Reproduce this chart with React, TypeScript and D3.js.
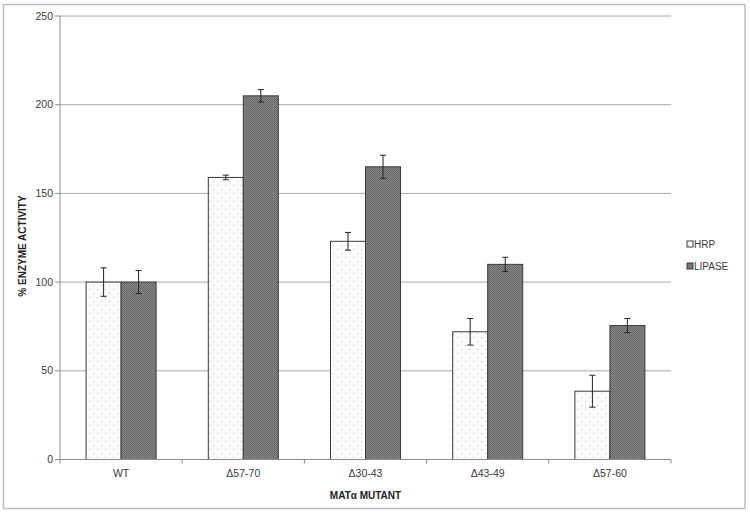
import React from "react";
import * as d3 from "d3";

const categories = ["WT", "Δ57-70", "Δ30-43", "Δ43-49", "Δ57-60"];
const seriesNames = ["HRP", "LIPASE"];
const hrpValues = [100, 159, 123, 72, 38.5];
const hrpErrors = [8, 1.3, 5, 7.5, 9];
const lipaseValues = [100, 205, 165, 110, 75.5];
const lipaseErrors = [6.5, 3.5, 6.5, 4, 4];
const yTicks = [0, 50, 100, 150, 200, 250];

const W = 750;
const H = 514;
const left = 60;
const right = 671;
const top = 16;
const bottom = 459.5;

export default function App() {
  const x = d3.scaleBand<string>().domain(categories).range([left, right]).paddingInner(0).paddingOuter(0);
  const y = d3.scaleLinear().domain([0, 250]).range([bottom, top]);
  const bw = x.bandwidth();
  const barW = bw * 0.2865;
  const sub = d3.scaleBand<string>().domain(seriesNames).range([bw / 2 - barW, bw / 2 + barW]);

  const series = [
    { name: "HRP", values: hrpValues, errors: hrpErrors, fill: "url(#dots)" },
    { name: "LIPASE", values: lipaseValues, errors: lipaseErrors, fill: "url(#checker)" },
  ];

  const font = "'Liberation Sans', Arial, sans-serif";

  return (
    <div style={{ position: "absolute", left: 0, top: 0 }}>
      <svg width={W} height={H} style={{ display: "block" }}>
        <defs>
          <pattern id="dots" width="8" height="8" patternUnits="userSpaceOnUse">
            <rect width="8" height="8" fill="#ffffff" />
            <rect x="1" y="1" width="1" height="1" fill="#b8b8b8" />
            <rect x="5" y="5" width="1" height="1" fill="#b8b8b8" />
          </pattern>
          <pattern id="checker" width="2" height="2" patternUnits="userSpaceOnUse">
            <rect width="2" height="2" fill="#868686" />
            <rect x="0" y="0" width="1" height="1" fill="#696969" />
            <rect x="1" y="1" width="1" height="1" fill="#696969" />
          </pattern>
        </defs>
        <rect x={3.5} y={4.5} width={741.5} height={504} fill="#fff" stroke="#bdbdbd" strokeWidth={1.5} />
        {yTicks.filter((t) => t > 0).map((t) => (
          <line key={t} x1={left} x2={right} y1={y(t)} y2={y(t)} stroke="#a8a8a8" strokeWidth={1} />
        ))}
        <line x1={left} x2={left} y1={top} y2={bottom} stroke="#8c8c8c" />
        {yTicks.map((t) => (
          <g key={t}>
            <line x1={left - 5} x2={left} y1={y(t)} y2={y(t)} stroke="#8c8c8c" />
            <text x={53} y={y(t)} dy="0.35em" textAnchor="end" fontFamily={font} fontSize={10.5} fill="#3a3a3a">
              {t}
            </text>
          </g>
        ))}
        {series.map((s) =>
          categories.map((c, i) => {
            const bx = (x(c) as number) + (sub(s.name) as number);
            const by = y(s.values[i]);
            return (
              <rect key={s.name + c} x={bx} y={by} width={sub.bandwidth()} height={bottom - by} fill={s.fill} stroke="#3a3a3a" strokeWidth={1} />
            );
          })
        )}
        {series.map((s) =>
          categories.map((c, i) => {
            const cx = (x(c) as number) + (sub(s.name) as number) + sub.bandwidth() / 2;
            const y1 = y(s.values[i] + s.errors[i]);
            const y2 = y(s.values[i] - s.errors[i]);
            return (
              <g key={"e" + s.name + c} stroke="#222" strokeWidth={1}>
                <line x1={cx} x2={cx} y1={y1} y2={y2} />
                <line x1={cx - 3} x2={cx + 3} y1={y1} y2={y1} />
                <line x1={cx - 3} x2={cx + 3} y1={y2} y2={y2} />
              </g>
            );
          })
        )}
        <line x1={left} x2={right} y1={bottom} y2={bottom} stroke="#8c8c8c" />
        {d3.range(categories.length + 1).map((k) => (
          <line key={k} x1={left + k * bw} x2={left + k * bw} y1={bottom} y2={bottom + 4} stroke="#8c8c8c" />
        ))}
        {categories.map((c) => (
          <text key={c} x={(x(c) as number) + bw / 2} y={473} dy="0.35em" textAnchor="middle" fontFamily={font} fontSize={10.5} fill="#3a3a3a">
            {c}
          </text>
        ))}
        <text x={(left + right) / 2} y={495} dy="0.35em" textAnchor="middle" fontFamily={font} fontSize={10} fontWeight="bold" fill="#222">
          MATα MUTANT
        </text>
        <text transform={`translate(22,246) rotate(-90)`} textAnchor="middle" dy="0.35em" fontFamily={font} fontSize={10} fontWeight="bold" fill="#222">
          % ENZYME ACTIVITY
        </text>
        {series.map((s, i) => (
          <g key={"l" + s.name} transform={`translate(687,${244 + i * 22})`}>
            <rect x={0} y={-3} width={6} height={6} fill={s.fill} stroke="#3a3a3a" strokeWidth={1} />
            <text x={7} y={0} dy="0.35em" fontFamily={font} fontSize={10} fill="#3a3a3a">
              {s.name}
            </text>
          </g>
        ))}
      </svg>
    </div>
  );
}
